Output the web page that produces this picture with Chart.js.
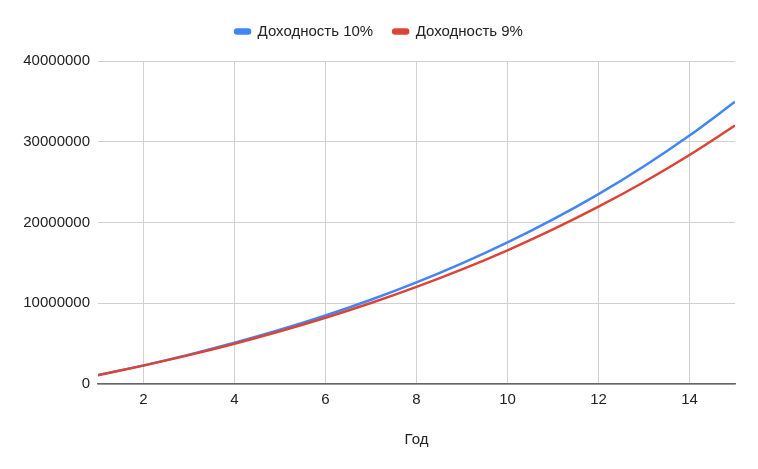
<!DOCTYPE html>
<html>
<head>
<meta charset="utf-8">
<script src="https://cdn.jsdelivr.net/npm/chart.js@4"></script>
<style>
html,body{margin:0;padding:0;background:#fff;}
#wrap{width:758px;height:469px;}
</style>
</head>
<body>
<div id="wrap"><canvas id="c" width="758" height="469"></canvas></div>
<script>
const years = [1,2,3,4,5,6,7,8,9,10,11,12,13,14,15];
const yield10 = [1100000,2310000,3641000,5105100,6715610,8487171,10435888,12579477,14937425,17531167,20384284,23522712,26974983,30772482,34949730];
const yield9 = [1090000,2278100,3573129,4984711,6523335,8200435,10028474,12021036,14192930,16560293,19140720,21953385,25019189,28360916,32003399];
const xTicks = [2,4,6,8,10,12,14];
const yTicks = [0,10000000,20000000,30000000,40000000];
const seriesNames = ['Доходность 10%','Доходность 9%'];

const font = "'Liberation Sans', Arial, sans-serif";
Chart.defaults.font.family = font;
Chart.defaults.font.size = 15;
Chart.defaults.color = '#222';

const toPts = arr => years.map((x,i)=>({x:x,y:arr[i]}));

const legendGap = {
  id:'legendGap',
  afterInit(chart){
    const lg = chart.legend;
    if (!lg) return;
    const orig = lg.fit.bind(lg);
    lg.fit = function(){ orig(); this.height += 12; };
  }
};

new Chart(document.getElementById('c'), {
  type: 'line',
  data: {
    datasets: [
      {label: seriesNames[0], data: toPts(yield10), borderColor:'#4285F4', backgroundColor:'#4285F4', borderWidth:2.5, pointRadius:0, cubicInterpolationMode:'monotone', order:1},
      {label: seriesNames[1], data: toPts(yield9), borderColor:'#DB4437', backgroundColor:'#DB4437', borderWidth:2.5, pointRadius:0, cubicInterpolationMode:'monotone', order:0}
    ]
  },
  plugins:[legendGap],
  options: {
    responsive:false,
    animation:false,
    layout:{padding:{top:4,right:0,bottom:20,left:0}},
    plugins:{
      legend:{
        position:'top',
        labels:{boxWidth:15,boxHeight:4,useBorderRadius:true,borderRadius:2,padding:20,color:'#222',font:{size:15},
          sort:(a,b)=>a.datasetIndex-b.datasetIndex}
      },
      tooltip:{enabled:false}
    },
    scales:{
      x:{
        type:'linear', min:1, max:15,
        afterBuildTicks: s => { s.ticks = xTicks.map(v=>({value:v})); },
        grid:{color:'#d0d0d0', drawTicks:false},
        border:{display:true, color:'#666', width:1.5},
        ticks:{padding:7, color:'#222', font:{size:15}},
        title:{display:true, text:'Год', color:'#222', font:{size:15}, padding:{top:15,bottom:0}}
      },
      y:{
        min:0, max:40000000,
        afterBuildTicks: s => { s.ticks = yTicks.map(v=>({value:v})); },
        afterFit: s => { s.width = 98; },
        grid:{color:'#d0d0d0', drawTicks:false},
        border:{display:false},
        ticks:{padding:8, color:'#222', font:{size:15}, callback:v=>String(v)}
      },
      yRight:{
        position:'right', min:0, max:40000000,
        afterFit: s => { s.width = 23; },
        grid:{display:false, drawTicks:false},
        border:{display:false},
        ticks:{display:false}
      }
    }
  }
});
</script>
</body>
</html>
